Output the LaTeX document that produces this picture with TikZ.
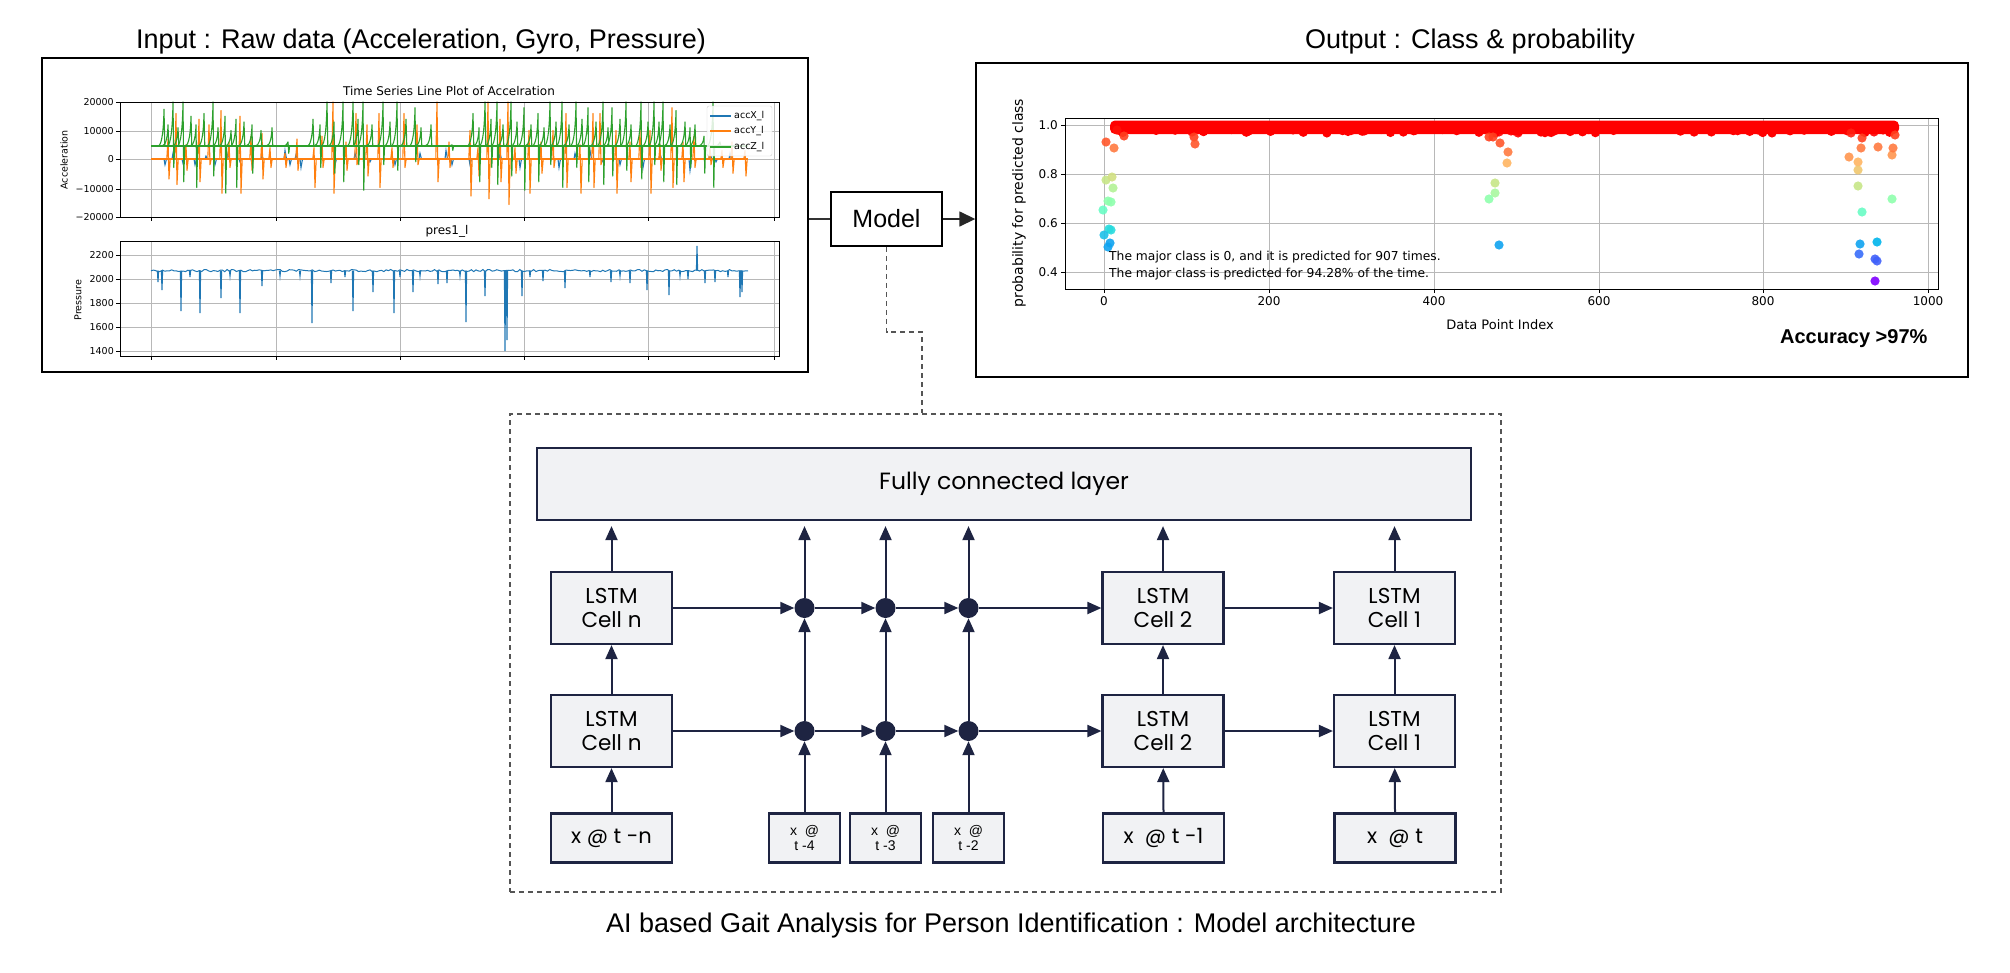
\documentclass[tikz,border=0pt]{standalone}
\usepackage{fontspec}
\setmainfont{Liberation Sans}
\newfontfamily\popf{Poppins}
\newfontfamily\djf{DejaVu Sans}
\usetikzlibrary{arrows.meta}
\definecolor{navy}{HTML}{1E2442}
\definecolor{cellfill}{HTML}{F1F2F4}
\definecolor{mplblue}{HTML}{1F77B4}
\definecolor{mplorange}{HTML}{FF7F0E}
\definecolor{mplgreen}{HTML}{2CA02C}
\definecolor{gridc}{HTML}{B8B8B8}
\definecolor{dashc}{HTML}{555555}
\tikzset{
  navyarrow/.style={draw=navy, line width=2pt, -{Triangle[length=14pt,width=12pt]}},
  cellbox/.style={draw=navy, fill=cellfill, line width=2.2pt, minimum width=121pt, minimum height=72pt, inner sep=0pt, align=center, font=\popf\fontsize{21.5}{24}\selectfont},
  inbig/.style={draw=navy, fill=cellfill, line width=2.2pt, minimum width=121pt, minimum height=49pt, inner sep=0pt, align=center, font=\popf\fontsize{21}{23}\selectfont},
  insmall/.style={draw=navy, fill=cellfill, line width=2.2pt, minimum width=71pt, minimum height=49pt, inner sep=0pt, align=center, font=\fontsize{14}{15}\selectfont},
  joindot/.style={circle, fill=navy, minimum size=20pt, inner sep=0pt},
  frame/.style={draw=black, line width=1.4pt, inner sep=0pt},
  gridline/.style={gridc, line width=0.8pt},
  ticklab/.style={font=\djf\fontsize{9.5}{11}\selectfont, inner sep=1pt},
  ticklabB/.style={font=\djf\fontsize{12}{14}\selectfont, inner sep=1pt},
  titletext/.style={font=\fontsize{27}{31}\selectfont},
}
\begin{document}
\begin{tikzpicture}[x=1pt,y=-1pt]
\useasboundingbox (0,0) rectangle (2010,972);
\pgfmathsetseed{7}

% ---------- titles ----------
\node[titletext] (tin) at (421,42) {Input : Raw data (Acceleration, Gyro, Pressure)};
\node[titletext] (tout) at (1470,42) {Output : Class \& probability};

% ---------- input box ----------
\node[frame, minimum width=766pt, minimum height=314pt] (inbox) at (425,215) {};

% top axes
\foreach \gx in {151,276,400,524,648,774} {
  \draw[gridline] (\gx,102) -- (\gx,217);
  \draw[gridline] (\gx,241) -- (\gx,356);
  \draw[black, line width=0.8pt] (\gx,217) -- (\gx,221);
  \draw[black, line width=0.8pt] (\gx,356) -- (\gx,360);
}
\foreach \gy/\lab in {102/20000,131/10000,159/0,189/−10000,217/−20000} {
  \draw[gridline] (120,\gy) -- (779,\gy);
  \draw[black, line width=0.8pt] (116,\gy) -- (120,\gy);
  \node[ticklab, anchor=east] at (115,\gy) {\lab};
}
\foreach \gy/\lab in {255/2200,279/2000,303/1800,327/1600,351/1400} {
  \draw[gridline] (120,\gy) -- (779,\gy);
  \draw[black, line width=0.8pt] (116,\gy) -- (120,\gy);
  \node[ticklab, anchor=east] at (115,\gy) {\lab};
}
\node[font=\djf\fontsize{12}{14}\selectfont] at (449,91) {Time Series Line Plot of Accelration};
\node[font=\djf\fontsize{12}{14}\selectfont] at (447,231) {pres1\_l};
\node[ticklab, rotate=90] at (64,160) {Acceleration};
\node[ticklab, rotate=90] at (78,300) {Pressure};

% blue accX
\draw[mplblue, line width=1.1pt] (151,159) -- (748,159);
\foreach \xx/\dv in {165/-2,173/2,183/-1.5,195/-2,206/1,215/-2,228/2,240/-1,252/-2,262/1,285/3,290/-2,296/1.5,301/-3,335/-2,355/2,370/-1,395/-2,420/2,438/-1,446/3,452/-2,470/-2,500/2,520/-3,540/2,559/-3,575/2,590/3,602/-1,620/-2,643/-3,660/2,690/-4,710/3,716/-1,730/2}{
  \draw[mplblue, line width=1.1pt] (\xx-1,159) -- (\xx,{159-2.85*\dv}) -- (\xx+1.5,159);
}
% orange accY
\draw[mplorange, line width=1.1pt] (151,159) -- (748,159);
\foreach \xx/\up/\dn in {168/7/-7,176/16/-9,186/5/-4,199/14/-8,209/12/-2,221/17/-12,229/6/-3,240/15/-12,251/8/-4,262/9/-7,270/4/-3,285/2/-3,297/7/-4,314/4/-10,322/8/-3,333/20/-12,346/6/-4,356/16/-2,367/12/-6,379/16/-10,392/4/-3,404/16/-3,417/12/-2,437/20/-8,449/6/-3,470/10/-13,478/4/-6,488/20/-14,500/14/-8,508/20/-16,515/4/-5,529/10/-12,541/6/-5,553/10/-3,566/16/-10,580/5/-12,593/16/-10,600/16/-2,616/10/-12,630/6/-8,640/10/-3,650/10/-12,660/5/-4,672/18/-10,683/6/-8,694/8/-3,710/4/-2,722/3/-3,732/6/-5,745/3/-6}{
  \draw[mplorange, line width=1.1pt, line join=round] (\xx-1.2,159) -- (\xx,{159-2.85*\up}) -- (\xx+1,{159-2.85*\dn}) -- (\xx+2.2,159);
}
% green accZ
\draw[mplgreen, line width=1.1pt] (151,146) -- (748,146);
\foreach \xx/\pk/\dn in {164/17.5/4.5,168/12/4.5,173/20/-3,178/11/4.5,183/20/-8,191/15/4.5,196/12/-10,204/16/4.5,213/20/-6,218/11/4.5,225/15/-12,231/10/4.5,236/14/-10,244/13/4.5,252/12/-5,261/10/4.5,272/11/4.5,288/6/2,313/14/4.5,320/12/-3,327/20/4.5,334/13/-5,343/20/-8,353/20/4.5,358/14/-2,363/20/-11,372/12/4.5,383/20/-2,390/13/4.5,397/20/-4,406/14/4.5,415/18/-1,421/11/4.5,431/12/4.5,452/5/3,473/16/4.5,479/11/-8,485/20/4.5,491/14/-3,497/20/-9,503/12/4.5,511/20/-6,517/13/4.5,524/18/-11,531/12/4.5,538/16/-8,544/11/4.5,550/20/-2,556/13/4.5,562/20/-10,569/12/4.5,576/20/-3,582/14/4.5,588/18/-8,596/13/4.5,603/20/-9,608/11/4.5,612/18/-6,620/14/4.5,626/20/-4,631/12/4.5,641/20/-7,648/13/4.5,654/20/-2,659/13/4.5,663/20/-8,670/12/4.5,676/17/-9,685/13/4.5,690/11/-3,695/12/4.5,704/8/-5,713/20/-10,720/6/4.5}{
  \draw[mplgreen, line width=1.1pt, line join=round] (\xx-6,146) .. controls (\xx-1.8,146) and (\xx-0.4,{(146+159-2.85*\pk)/2}) .. (\xx,{159-2.85*\pk}) -- (\xx+0.8,{159-2.85*\dn}) -- (\xx+1.6,146);
}
\draw[black, line width=0.9pt] (120,102) rectangle (779,217);
% legend
\draw[gray!35, fill=white, fill opacity=0.85, rounded corners=2pt] (707,106) rectangle (772,156);
\draw[mplblue, line width=1.4pt] (710,116) -- (731,116);
\draw[mplorange, line width=1.4pt] (710,131) -- (731,131);
\draw[mplgreen, line width=1.4pt] (710,147) -- (731,147);
\node[ticklab, anchor=west] at (733,116) {accX\_l};
\node[ticklab, anchor=west] at (733,131) {accY\_l};
\node[ticklab, anchor=west] at (733,147) {accZ\_l};

% pressure
\draw[mplblue, line width=1pt] plot[domain=151:748, samples=260] (\x,{270.6+1.1*rand});
\foreach \xx/\ye in {158/282,162/290,181/311,190/277,200/313,221/298,230/276,240/313,262/286,280/276,300/276,312/323,331/283,345/277,353/311,373/292,394/313,400/277,413/292,420/276,438/284,447/283,460/276,466/322,485/296,505/351,507/340,522/296,530/277,543/281,565/288,590/277,611/282,620/276,630/283,647/290,669/295,680/276,688/279,697/246,705/283,715/282,728/277,740/297,742/292}{
  \draw[mplblue, line width=1.1pt] (\xx-0.6,270.6) -- (\xx,\ye) -- (\xx+0.6,270.6);
}
\draw[black, line width=0.9pt] (120,241) rectangle (779,356);

% ---------- model ----------
\node[frame, line width=1.5pt, minimum width=111pt, minimum height=54pt, font=\fontsize{25}{29}\selectfont] (model) at (886.5,219) {Model};

% ---------- output box ----------
\node[frame, minimum width=992pt, minimum height=314pt] (outbox) at (1472,220) {};
\draw[line width=1.5pt, black!80] (model.west -| inbox.east) -- (model.west);
\draw[line width=1.5pt, black!85, -{Triangle[length=16pt,width=15pt]}] (model.east) -- (model.east -| outbox.west);

% output plot
\foreach \gx/\lab in {1104/0,1269/200,1434/400,1599/600,1763/800,1928/1000} {
  \draw[gridline] (\gx,118) -- (\gx,289);
  \draw[black, line width=0.8pt] (\gx,289) -- (\gx,293);
  \node[ticklabB, anchor=north] at (\gx,295) {\lab};
}
\foreach \gy/\lab in {125/1.0,174/0.8,223/0.6,272/0.4} {
  \draw[gridline] (1065,\gy) -- (1938,\gy);
  \draw[black, line width=0.8pt] (1061,\gy) -- (1065,\gy);
  \node[ticklabB, anchor=east] at (1059,\gy) {\lab};
}
\fill[red, rounded corners=5pt] (1110,120.5) rectangle (1899,134);
\foreach \i in {1,...,70} {
  \fill[red] ({1115+780*rnd},{129+4*rnd}) circle (4.6pt);
}
\foreach \dx/\dy/\dc in {1115/127/FF0000,1117/130/FF1008,1124/136/FF401F,1106/142/FF572B,1114/148/FF7A40,1106/180/C7E687,1112/177/D1E082,1113/188/B3F296,1108/201/8FFFAD,1111/202/8FFFAD,1103/210/69FCC4,1109/229/29DBDE,1111/230/29DBDE,1104/235/1EC0E8,1110/243/0FA3F0,1108/247/0FA3F0,1192/132/FF0000,1202/130/FF0000,1194/137/FF401F,1195/144/FF572B,1335/129/FF0000,1499/132/FF0000,1511/131/FF0000,1518/133/FF0000,1532/128/FF0000,1547/128/FF0000,1489/137/FF401F,1493/137/FF401F,1500/143/FF572B,1508/152/FF7A40,1507/163/FFB562,1495/183/C7E687,1495/193/A8F79E,1489/199/8FFFAD,1499/245/0FA3F0,1803/128/FF0000,1850/128/FF0000,1851/133/FF2010,1864/132/FF0000,1874/132/FF0000,1883/130/FF0000,1867/127/FF0000,1893/128/FF0000,1895/135/FF401F,1849/157/FF964F,1858/162/FFB562,1858/170/F0C76E,1862/138/FF401F,1861/148/FF7A40,1858/186/C7E687,1862/212/69FCC4,1860/244/0FA3F0,1859/254/386DFA,1877/242/00B5EB,1875/259/4061FA,1877/261/4061FA,1875/281/8000FF,1878/147/FF7A40,1892/155/FF964F,1893/148/FF7A40,1892/199/8FFFAD}{
  \definecolor{dotc}{HTML}{\dc}
  \fill[dotc, opacity=0.9] (\dx,\dy) circle (4.6pt);
}
\draw[black, line width=0.9pt] (1065,118) rectangle (1938,289);
\node[font=\djf\fontsize{12.3}{14}\selectfont, anchor=west, inner sep=0pt] at (1109,257) {The major class is 0, and it is predicted for 907 times.};
\node[font=\djf\fontsize{12.3}{14}\selectfont, anchor=west, inner sep=0pt] at (1109,274) {The major class is predicted for 94.28\% of the time.};
\node[font=\djf\fontsize{13}{15}\selectfont, inner sep=1pt] at (1500,325) {Data Point Index};
\node[font=\djf\fontsize{14}{16}\selectfont, inner sep=1pt, rotate=90] at (1019,203) {probability for predicted class};
\node[font=\bfseries\fontsize{20}{24}\selectfont, anchor=east] at (1931,339) {Accuracy >97\%};

% ---------- architecture ----------
\node[draw=dashc, dashed, dash pattern=on 5pt off 4pt, line width=1.1pt, minimum width=991pt, minimum height=478pt, inner sep=0pt] (dbox) at (1005.5,653) {};
\coordinate (bend) at (922,332);
\draw[dashc, line width=1.1pt, dash pattern=on 5pt off 4pt] (model.south) |- (bend) -- (bend |- dbox.north);

\node[draw=navy, fill=cellfill, line width=2.2pt, minimum width=934pt, minimum height=72pt, inner sep=0pt, font=\popf\fontsize{23.5}{26}\selectfont] (fc) at (1004,484) {Fully connected layer};

\node[cellbox] (cu1) at (611.5,608) {LSTM\\Cell n};
\node[cellbox] (cu2) at (1163,608) {LSTM\\Cell 2};
\node[cellbox] (cu3) at (1394.5,608) {LSTM\\Cell 1};
\node[cellbox] (cl1) at (611.5,731) {LSTM\\Cell n};
\node[cellbox] (cl2) at (1163,731) {LSTM\\Cell 2};
\node[cellbox] (cl3) at (1394.5,731) {LSTM\\Cell 1};

\node[inbig] (x1) at (611.5,838) {x @ t -n};
\node[inbig] (x2) at (1163.5,838) {x\ \ @ t -1};
\node[inbig] (x3) at (1395,838) {x\ \ @ t};
\node[insmall] (s1) at (804.5,838) {x\ \ @\\t -4};
\node[insmall] (s2) at (885.5,838) {x\ \ @\\t -3};
\node[insmall] (s3) at (968.5,838) {x\ \ @\\t -2};

\node[joindot] (du1) at (804.5,608) {};
\node[joindot] (du2) at (885.5,608) {};
\node[joindot] (du3) at (968.5,608) {};
\node[joindot] (dl1) at (804.5,731) {};
\node[joindot] (dl2) at (885.5,731) {};
\node[joindot] (dl3) at (968.5,731) {};

% horizontal arrows
\draw[navyarrow] (cu1) -- (du1);
\draw[navyarrow] (du1) -- (du2);
\draw[navyarrow] (du2) -- (du3);
\draw[navyarrow] (du3) -- (cu2);
\draw[navyarrow] (cu2) -- (cu3);
\draw[navyarrow] (cl1) -- (dl1);
\draw[navyarrow] (dl1) -- (dl2);
\draw[navyarrow] (dl2) -- (dl3);
\draw[navyarrow] (dl3) -- (cl2);
\draw[navyarrow] (cl2) -- (cl3);
% vertical arrows
\foreach \a/\b/\c in {x1/cl1/cu1, x2/cl2/cu2, x3/cl3/cu3, s1/dl1/du1, s2/dl2/du2, s3/dl3/du3}{
  \draw[navyarrow] (\a.north) -- (\b);
  \draw[navyarrow] (\b) -- (\c);
  \draw[navyarrow, shorten >=5pt] (\c.north) -- (\c.north |- fc.south);
}

\node[font=\fontsize{27}{31}\selectfont] (cap) at (1011,926) {AI based Gait Analysis for Person Identification : Model architecture};
\end{tikzpicture}
\end{document}
